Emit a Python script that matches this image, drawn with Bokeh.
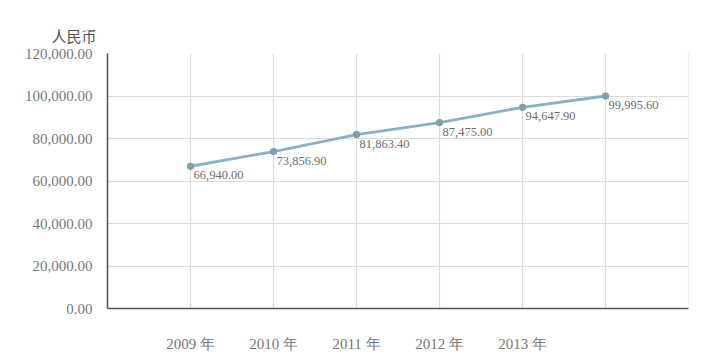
from bokeh.plotting import figure
from bokeh.models import Range1d, FixedTicker, Span, ColumnDataSource
from bokeh.core.properties import value
from bokeh.embed import file_html
from bokeh.resources import INLINE

years = ["2009 年", "2010 年", "2011 年", "2012 年", "2013 年", ""]
income = [66940.00, 73856.90, 81863.40, 87475.00, 94647.90, 99995.60]
income_labels = ["66,940.00", "73,856.90", "81,863.40", "87,475.00", "94,647.90", "99,995.60"]
y_ticks = [0, 20000, 40000, 60000, 80000, 100000, 120000]
y_title = "人民币"

xs = list(range(1, len(years) + 1))
x_end = len(years) + 1
src = ColumnDataSource(dict(x=xs, y=income, lab=income_labels))

p = figure(width=712, height=354, output_backend="svg", toolbar_location=None,
           x_range=Range1d(0, x_end), y_range=Range1d(0, 120000),
           min_border_left=107, min_border_right=24, min_border_top=53, min_border_bottom=46,
           title=y_title)
p.outline_line_color = None
p.background_fill_color = "white"

p.title.align = "left"
p.title.offset = -56
p.title.text_font = "Noto Sans CJK SC"
p.title.text_font_size = "15px"
p.title.text_font_style = "normal"
p.title.text_color = "#555555"
p.title.standoff = 15

serif = "Liberation Serif"
grid_col = "#dcdcdc"

p.xaxis.ticker = FixedTicker(ticks=xs + [x_end])
overrides = {i: years[i - 1] for i in xs}
overrides[x_end] = ""
p.xaxis.major_label_overrides = overrides
p.yaxis.ticker = FixedTicker(ticks=y_ticks)
p.yaxis.major_label_overrides = {t: f"{t:,.2f}" for t in y_ticks}

for ax in (p.xaxis, p.yaxis):
    ax.axis_line_color = "#555555"
    ax.axis_line_width = 1.6
    ax.major_tick_line_color = None
    ax.minor_tick_line_color = None
    ax.major_label_text_font = serif
    ax.major_label_text_color = "#777777"
    ax.major_label_text_font_size = "15px"
p.xaxis.major_label_standoff = 21
p.yaxis.major_label_standoff = 9

p.xgrid.grid_line_color = grid_col
p.ygrid.grid_line_color = grid_col
p.xgrid.grid_line_width = 1.2
p.ygrid.grid_line_width = 1.2
p.add_layout(Span(location=x_end, dimension="height", line_color=grid_col, line_width=1.2))

p.line("x", "y", source=src, line_color="#8ab0c1", line_width=2.8)
p.scatter("x", "y", source=src, size=6.5, fill_color="#7d9fb0", line_color="#7d9fb0")
p.text("x", "y", text="lab", source=src, x_offset=3, y_offset=5,
       text_font=value(serif), text_font_size="12.5px", text_color="#6e6e6e",
       text_baseline="top", text_align="left")

open("out.html", "w").write(file_html(p, INLINE))
